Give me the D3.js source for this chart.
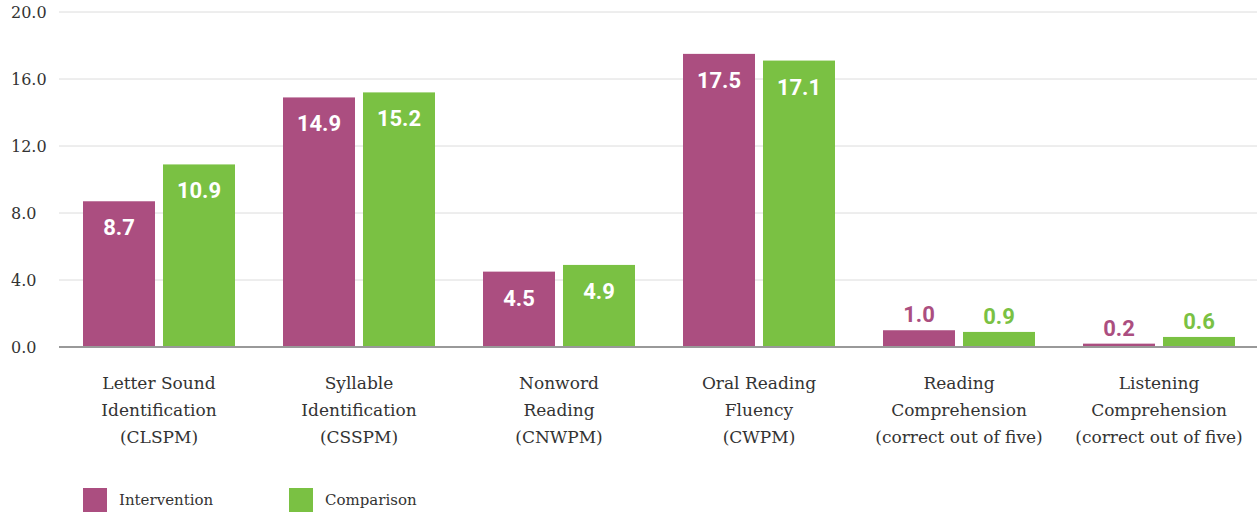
<!DOCTYPE html>
<html>
<head>
<meta charset="utf-8">
<script src="https://cdn.jsdelivr.net/npm/d3@7"></script>
<style>
  body { margin: 0; background: #fff; }
  svg { display: block; }
</style>
</head>
<body>
<svg id="chart" width="1257" height="512"></svg>
<script>
var categories = [
  ['Letter Sound', 'Identification', '(CLSPM)'],
  ['Syllable', 'Identification', '(CSSPM)'],
  ['Nonword', 'Reading', '(CNWPM)'],
  ['Oral Reading', 'Fluency', '(CWPM)'],
  ['Reading', 'Comprehension', '(correct out of five)'],
  ['Listening', 'Comprehension', '(correct out of five)']
]
var seriesNames = ['Intervention', 'Comparison']
var intervention = [8.7, 14.9, 4.5, 17.5, 1.0, 0.2]
var comparison = [10.9, 15.2, 4.9, 17.1, 0.9, 0.6]
var yTicks = [0, 4, 8, 12, 16, 20]
var colors = ['#ab4e80', '#7ac143']

var svg = d3.select('#chart')
  , width = +svg.attr('width')

var x0 = d3.scaleBand().domain(d3.range(categories.length)).range([59, 1259])
  , x1 = d3.scaleBand().domain(seriesNames).range([24, 176]).paddingInner(0.1)
  , y = d3.scaleLinear().domain([0, 20]).range([347, 12])

// grid
svg.append('g').selectAll('line').data(yTicks.slice(1))
  .enter().append('line')
  .attr('x1', 59).attr('x2', width)
  .attr('y1', function(d) { return y(d) }).attr('y2', function(d) { return y(d) })
  .attr('stroke', '#dcdcdc').attr('stroke-width', 1)

// y labels
svg.append('g').selectAll('text').data(yTicks)
  .enter().append('text')
  .attr('x', 11).attr('y', function(d) { return y(d) + 6 })
  .attr('font-family', '"DejaVu Serif", serif').attr('font-size', 16)
  .attr('fill', '#333')
  .text(function(d) { return d3.format('.1f')(d) })

var rows = categories.map(function(c, i) {
  return seriesNames.map(function(s, j) {
    return { cat: i, series: s, idx: j, value: [intervention, comparison][j][i] }
  })
})

var groups = svg.append('g').selectAll('g.group').data(rows)
  .enter().append('g').attr('class', 'group')
  .attr('transform', function(d, i) { return 'translate(' + x0(i) + ',0)' })

groups.selectAll('rect').data(function(d) { return d })
  .enter().append('rect')
  .attr('x', function(d) { return x1(d.series) })
  .attr('width', x1.bandwidth())
  .attr('y', function(d) { return y(d.value) })
  .attr('height', function(d) { return y(0) - y(d.value) })
  .attr('fill', function(d) { return colors[d.idx] })

groups.selectAll('text.val').data(function(d) { return d })
  .enter().append('text').attr('class', 'val')
  .attr('x', function(d) { return x1(d.series) + x1.bandwidth() / 2 })
  .attr('y', function(d) { return d.value >= 2 ? y(d.value) + 34 : y(d.value) - 8 })
  .attr('text-anchor', 'middle')
  .attr('font-family', 'Roboto, sans-serif').attr('font-weight', 'bold').attr('font-size', 22)
  .attr('fill', function(d) { return d.value >= 2 ? '#fff' : colors[d.idx] })
  .text(function(d) { return d3.format('.1f')(d.value) })

// baseline
svg.append('line')
  .attr('x1', 59).attr('x2', width)
  .attr('y1', y(0)).attr('y2', y(0))
  .attr('stroke', '#999').attr('stroke-width', 2)

// category labels
svg.append('g').selectAll('text').data(categories)
  .enter().append('text')
  .attr('x', function(d, i) { return x0(i) + x0.bandwidth() / 2 })
  .attr('y', 389)
  .attr('text-anchor', 'middle')
  .attr('font-family', '"DejaVu Serif", serif').attr('font-size', 17)
  .attr('fill', '#333')
  .each(function(d) {
    d3.select(this).selectAll('tspan').data(d)
      .enter().append('tspan')
      .attr('x', d3.select(this).attr('x'))
      .attr('dy', function(t, k) { return k === 0 ? 0 : 27 })
      .text(function(t) { return t })
  })

// legend
var legend = svg.append('g').selectAll('g').data(seriesNames)
  .enter().append('g')
  .attr('transform', function(d, i) { return 'translate(' + (83 + i * 206) + ',488)' })
legend.append('rect').attr('width', 24).attr('height', 24)
  .attr('fill', function(d, i) { return colors[i] })
legend.append('text').attr('x', 36).attr('y', 17)
  .attr('font-family', '"DejaVu Serif", serif').attr('font-size', 15)
  .attr('fill', '#333')
  .text(function(d) { return d })
</script>
</body>
</html>
